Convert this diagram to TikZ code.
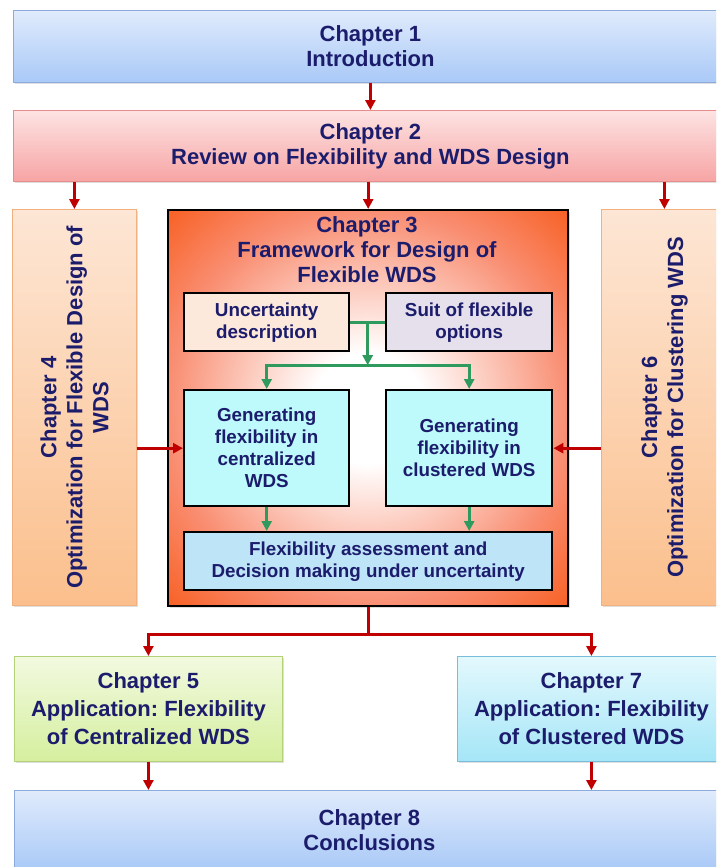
\documentclass[tikz,border=0pt]{standalone}
\usepackage{fontspec}
\setmainfont{Liberation Sans}
\usetikzlibrary{arrows.meta,shadows,calc}
\definecolor{navy}{HTML}{1C1C6C}
\definecolor{darkred}{HTML}{C00000}
\definecolor{grn}{HTML}{2E9A5E}
\definecolor{c3mid}{HTML}{F98E72}
\definecolor{c3out}{HTML}{F85E20}
\pgfdeclareradialshading{chthree}{\pgfpoint{0bp}{0bp}}{color(0bp)=(white); color(7bp)=(white); color(25bp)=(c3mid); color(36bp)=(c3out); color(50bp)=(c3out)}
\tikzset{
  outer/.style={rectangle, anchor=north west, inner sep=0pt, text=navy, align=center,
    font=\fontsize{22}{25}\selectfont\bfseries, line width=0.8pt,
    drop shadow={shadow xshift=1.5pt, shadow yshift=-1.5pt, opacity=0.25}},
  inner/.style={rectangle, anchor=north west, inner sep=0pt, text=navy, align=center,
    font=\fontsize{18.8}{22}\selectfont\bfseries, draw=black, line width=2.4pt},
  rotlabel/.style={rotate=90, text=navy, align=center, font=\fontsize{22}{26}\selectfont\bfseries},
  redline/.style={draw=darkred, line width=2.8pt},
  redarrow/.style={redline, -{Triangle[length=10pt,width=10pt]}},
  grline/.style={draw=grn, line width=3pt},
  grarrow/.style={grline, -{Triangle[length=10pt,width=10pt]}},
}
\frenchspacing
\begin{document}
\begin{tikzpicture}[x=1pt,y=-1pt]
\useasboundingbox (0,0) rectangle (716,867);
\clip (0,0) rectangle (716,867);
% outer chapter boxes
\node[outer, draw={rgb,255:red,140;green,170;blue,220}, top color={rgb,255:red,224;green,235;blue,252}, bottom color={rgb,255:red,169;green,201;blue,247}, minimum width=714pt, minimum height=72pt] (ch1) at (13,10) {Chapter 1\\Introduction};
\node[outer, draw={rgb,255:red,230;green,140;blue,140}, top color={rgb,255:red,253;green,227;blue,227}, bottom color={rgb,255:red,247;green,164;blue,164}, minimum width=714pt, minimum height=71pt] (ch2) at (13,110) {Chapter 2\\Review on Flexibility and WDS Design};
\node[outer, draw={rgb,255:red,240;green,176;blue,128}, top color={rgb,255:red,253;green,230;blue,213}, bottom color={rgb,255:red,251;green,191;blue,140}, minimum width=124pt, minimum height=396pt] (ch4) at (12,209) {};
\node[rotlabel] (t4) at (ch4.center) {Chapter 4\\Optimization for Flexible Design of\\WDS};
\node[outer, draw={rgb,255:red,240;green,176;blue,128}, top color={rgb,255:red,253;green,230;blue,213}, bottom color={rgb,255:red,251;green,191;blue,140}, minimum width=126pt, minimum height=396pt] (ch6) at (601,209) {};
\node[rotlabel] (t6) at (ch6.center) {Chapter 6\\Optimization for Clustering WDS};
% chapter 3 frame
\node[rectangle, anchor=north west, inner sep=0pt, draw=black, line width=2.4pt, shading=chthree, drop shadow={shadow xshift=1.5pt, shadow yshift=-1.5pt, opacity=0.25}, minimum width=400pt, minimum height=396pt] (ch3) at (167,209) {};
\node[text=navy, align=center, font=\fontsize{22}{25}\selectfont\bfseries] (t3) at (367,250) {Chapter 3\\Framework for Design of\\Flexible WDS};
\node[inner, fill={rgb,255:red,253;green,233;blue,220}, minimum width=165pt, minimum height=58pt] (unc) at (183,292) {Uncertainty\\description};
\node[inner, fill={rgb,255:red,230;green,224;blue,236}, minimum width=166pt, minimum height=58pt] (suit) at (385,292) {Suit of flexible\\options};
\node[inner, fill={rgb,255:red,190;green,250;blue,252}, minimum width=165pt, minimum height=116pt] (gen1) at (183,389) {Generating\\flexibility in\\centralized\\WDS};
\node[inner, fill={rgb,255:red,190;green,250;blue,252}, minimum width=166pt, minimum height=116pt] (gen2) at (385,389) {Generating\\flexibility in\\clustered WDS};
\node[inner, fill={rgb,255:red,190;green,228;blue,248}, minimum width=368pt, minimum height=58pt] (flex) at (183,531) {Flexibility assessment and\\Decision making under uncertainty};
% lower chapters
\node[outer, draw={rgb,255:red,180;green,210;blue,120}, top color={rgb,255:red,242;green,249;blue,224}, bottom color={rgb,255:red,213;green,239;blue,158}, font=\fontsize{22}{28}\selectfont\bfseries, minimum width=268pt, minimum height=105pt] (ch5) at (14,656) {Chapter 5\\Application: Flexibility\\of Centralized WDS};
\node[outer, draw={rgb,255:red,120;green,190;blue,220}, top color={rgb,255:red,227;green,248;blue,253}, bottom color={rgb,255:red,165;green,230;blue,247}, font=\fontsize{22}{28}\selectfont\bfseries, minimum width=268pt, minimum height=105pt] (ch7) at (457,656) {Chapter 7\\Application: Flexibility\\of Clustered WDS};
\node[outer, draw={rgb,255:red,140;green,170;blue,220}, top color={rgb,255:red,224;green,235;blue,252}, bottom color={rgb,255:red,169;green,201;blue,247}, minimum width=710pt, minimum height=80pt] (ch8) at (14,790) {Chapter 8\\Conclusions};
% red connectors
\draw[redarrow] (ch1.south) -- (ch2.north);
\draw[redarrow] (ch2.south -| ch4.north) -- (ch4.north);
\draw[redarrow] (ch2.south -| ch3.north) -- (ch3.north);
\draw[redarrow] (ch2.south -| ch6.north) -- (ch6.north);
\draw[redarrow] (ch4.east |- gen1.west) -- (gen1.west);
\draw[redarrow] (ch6.west |- gen2.east) -- (gen2.east);
\coordinate (b3) at ($(ch3.south)+(0,27)$);
\draw[redline] (ch3.south) -- (b3);
\draw[redarrow] (b3) -| (ch5.north);
\draw[redarrow] (b3) -| (ch7.north);
\draw[redarrow] (ch5.south) -- (ch5.south |- ch8.north);
\draw[redarrow] (ch7.south) -- (ch7.south |- ch8.north);
% green connectors
\coordinate (jt) at ($(unc.east)!0.5!(suit.west)$);
\coordinate (jb) at ($(jt)+(0,43)$);
\draw[grline] (unc.east) -- (suit.west);
\draw[grarrow] (jt) -- (jb);
\draw[grarrow] (jb) -| (gen1.north);
\draw[grarrow] (jb) -| (gen2.north);
\draw[grarrow] (gen1.south) -- (gen1.south |- flex.north);
\draw[grarrow] (gen2.south) -- (gen2.south |- flex.north);
\end{tikzpicture}
\end{document}
